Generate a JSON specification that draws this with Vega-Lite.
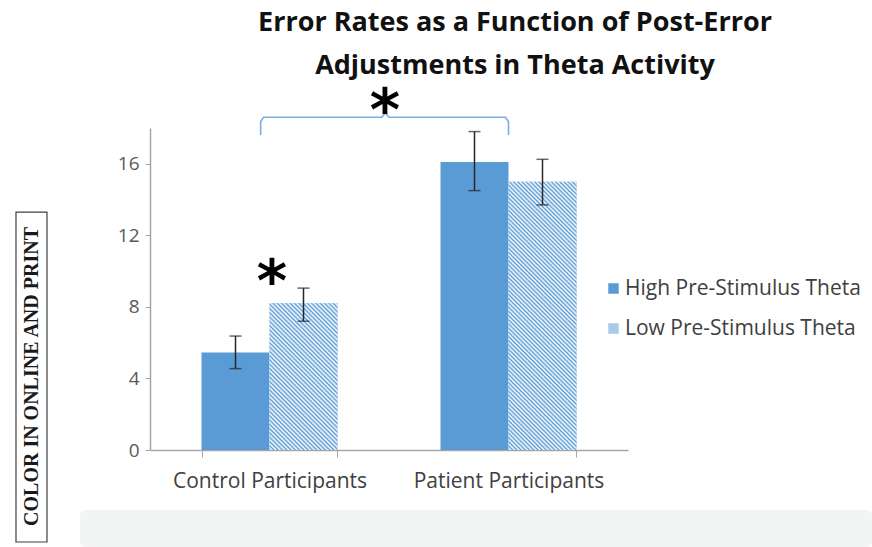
{
  "$schema": "https://vega.github.io/schema/vega-lite/v6.json",
  "width": 478,
  "height": 322,
  "autosize": {"type": "none"},
  "padding": {"left": 150, "top": 128, "right": 244, "bottom": 97},
  "background": "white",
  "config": {"view": {"stroke": null}, "font": "Open Sans"},
  "title": {
    "text": ["Error Rates as a Function of Post-Error", "Adjustments in Theta Activity"],
    "font": "Open Sans",
    "fontSize": 27,
    "fontWeight": "bold",
    "color": "#111111",
    "anchor": "middle",
    "frame": "group",
    "dx": 126,
    "offset": 4,
    "lineHeight": 43
  },
  "datasets": {
    "bars": [
      {"group": "Control Participants", "cond": "High Pre-Stimulus Theta", "rate": 5.45, "lo": 4.55, "hi": 6.37},
      {"group": "Control Participants", "cond": "Low Pre-Stimulus Theta", "rate": 8.2, "lo": 7.2, "hi": 9.05},
      {"group": "Patient Participants", "cond": "High Pre-Stimulus Theta", "rate": 16.1, "lo": 14.5, "hi": 17.8},
      {"group": "Patient Participants", "cond": "Low Pre-Stimulus Theta", "rate": 15.0, "lo": 13.7, "hi": 16.25}
    ],
    "ann": [
      {"kind": "band", "ax": -0.2929, "ax2": 3.0209, "ay": -3.35, "ay2": -5.42, "ord": 0, "label": ""},
      {"kind": "box", "ax": -0.5607, "ax2": -0.431, "ay": 13.3, "ay2": -5.143, "ord": 0, "label": ""},
      {"kind": "lbl", "ax": -0.4958, "ax2": 0, "ay": 4.11, "ay2": 0, "ord": 0, "label": "COLOR IN ONLINE AND PRINT"},
      {"kind": "br", "ax": 0.463, "ax2": 0, "ay": 17.61, "ay2": 0, "ord": 1, "label": ""},
      {"kind": "br", "ax": 0.463, "ax2": 0, "ay": 18.35, "ay2": 0, "ord": 2, "label": ""},
      {"kind": "br", "ax": 0.475, "ax2": 0, "ay": 18.6, "ay2": 0, "ord": 3, "label": ""},
      {"kind": "br", "ax": 0.97, "ax2": 0, "ay": 18.6, "ay2": 0, "ord": 4, "label": ""},
      {"kind": "br", "ax": 0.985, "ax2": 0, "ay": 18.84, "ay2": 0, "ord": 5, "label": ""},
      {"kind": "br", "ax": 1.0, "ax2": 0, "ay": 18.6, "ay2": 0, "ord": 6, "label": ""},
      {"kind": "br", "ax": 1.488, "ax2": 0, "ay": 18.6, "ay2": 0, "ord": 7, "label": ""},
      {"kind": "br", "ax": 1.5, "ax2": 0, "ay": 18.35, "ay2": 0, "ord": 8, "label": ""},
      {"kind": "br", "ax": 1.5, "ax2": 0, "ay": 17.61, "ay2": 0, "ord": 9, "label": ""},
      {"kind": "ast", "ax": 0.983, "ax2": 0, "ay": 18.85, "ay2": 0, "ord": 0, "label": "*"},
      {"kind": "ast", "ax": 0.51, "ax2": 0, "ay": 9.3, "ay2": 0, "ord": 0, "label": "*"}
    ]
  },
  "layer": [
    {
      "data": {"name": "bars"},
      "encoding": {
        "x": {
          "field": "group",
          "type": "nominal",
          "title": null,
          "scale": {"domain": ["Control Participants", "Patient Participants"], "paddingInner": 0.431, "paddingOuter": 0.2155},
          "axis": {
            "title": null,
            "labelAngle": 0,
            "tickBand": "extent",
            "tickSize": 7,
            "tickColor": "#A6A6A6",
            "domainColor": "#A6A6A6",
            "domainWidth": 1.5,
            "labelFont": "Open Sans",
            "labelFontSize": 21,
            "labelColor": "#404040",
            "labelPadding": 13,
            "labelLimit": 300
          }
        },
        "xOffset": {"field": "cond", "type": "nominal", "scale": {"domain": ["High Pre-Stimulus Theta", "Low Pre-Stimulus Theta"]}}
      },
      "layer": [
        {
          "mark": {"type": "bar"},
          "encoding": {
            "y": {
              "field": "rate",
              "type": "quantitative",
              "title": null,
              "scale": {"domain": [0, 18], "nice": false},
              "axis": {
                "title": null,
                "values": [0, 4, 8, 12, 16],
                "grid": false,
                "tickSize": 5,
                "tickColor": "#A6A6A6",
                "domainColor": "#A6A6A6",
                "domainWidth": 1.5,
                "labelFont": "Open Sans",
                "labelFontSize": 19,
                "labelColor": "#595959",
                "labelPadding": 6
              }
            },
            "color": {
              "field": "cond",
              "type": "nominal",
              "scale": {"domain": ["High Pre-Stimulus Theta", "Low Pre-Stimulus Theta"], "range": ["#5b9bd5", "#a9cbeb"]},
              "legend": {
                "title": null,
                "orient": "none",
                "legendX": 453,
                "legendY": 150,
                "padding": 0,
                "symbolType": "square",
                "symbolSize": 110,
                "symbolStrokeWidth": 0,
                "labelFont": "Open Sans",
                "labelFontSize": 21,
                "labelColor": "#404040",
                "labelOffset": 1,
                "labelLimit": 300,
                "rowPadding": 18
              }
            }
          }
        },
        {
          "transform": [{"filter": "datum.group === 'Control Participants' && datum.cond === 'Low Pre-Stimulus Theta'"}],
          "mark": {
            "type": "bar",
            "fill": {
              "gradient": "linear", "x1": 0, "y1": 1, "x2": 0.5584, "y2": -0.2047,
              "stops": [
                {"offset":0,"color":"#5b9bd5"},{"offset":0.01,"color":"#fff"},{"offset":0.02,"color":"#5b9bd5"},{"offset":0.03,"color":"#fff"},{"offset":0.04,"color":"#5b9bd5"},{"offset":0.05,"color":"#fff"},{"offset":0.06,"color":"#5b9bd5"},{"offset":0.07,"color":"#fff"},{"offset":0.08,"color":"#5b9bd5"},{"offset":0.09,"color":"#fff"},
                {"offset":0.1,"color":"#5b9bd5"},{"offset":0.11,"color":"#fff"},{"offset":0.12,"color":"#5b9bd5"},{"offset":0.13,"color":"#fff"},{"offset":0.14,"color":"#5b9bd5"},{"offset":0.15,"color":"#fff"},{"offset":0.16,"color":"#5b9bd5"},{"offset":0.17,"color":"#fff"},{"offset":0.18,"color":"#5b9bd5"},{"offset":0.19,"color":"#fff"},
                {"offset":0.2,"color":"#5b9bd5"},{"offset":0.21,"color":"#fff"},{"offset":0.22,"color":"#5b9bd5"},{"offset":0.23,"color":"#fff"},{"offset":0.24,"color":"#5b9bd5"},{"offset":0.25,"color":"#fff"},{"offset":0.26,"color":"#5b9bd5"},{"offset":0.27,"color":"#fff"},{"offset":0.28,"color":"#5b9bd5"},{"offset":0.29,"color":"#fff"},
                {"offset":0.3,"color":"#5b9bd5"},{"offset":0.31,"color":"#fff"},{"offset":0.32,"color":"#5b9bd5"},{"offset":0.33,"color":"#fff"},{"offset":0.34,"color":"#5b9bd5"},{"offset":0.35,"color":"#fff"},{"offset":0.36,"color":"#5b9bd5"},{"offset":0.37,"color":"#fff"},{"offset":0.38,"color":"#5b9bd5"},{"offset":0.39,"color":"#fff"},
                {"offset":0.4,"color":"#5b9bd5"},{"offset":0.41,"color":"#fff"},{"offset":0.42,"color":"#5b9bd5"},{"offset":0.43,"color":"#fff"},{"offset":0.44,"color":"#5b9bd5"},{"offset":0.45,"color":"#fff"},{"offset":0.46,"color":"#5b9bd5"},{"offset":0.47,"color":"#fff"},{"offset":0.48,"color":"#5b9bd5"},{"offset":0.49,"color":"#fff"},
                {"offset":0.5,"color":"#5b9bd5"},{"offset":0.51,"color":"#fff"},{"offset":0.52,"color":"#5b9bd5"},{"offset":0.53,"color":"#fff"},{"offset":0.54,"color":"#5b9bd5"},{"offset":0.55,"color":"#fff"},{"offset":0.56,"color":"#5b9bd5"},{"offset":0.57,"color":"#fff"},{"offset":0.58,"color":"#5b9bd5"},{"offset":0.59,"color":"#fff"},
                {"offset":0.6,"color":"#5b9bd5"},{"offset":0.61,"color":"#fff"},{"offset":0.62,"color":"#5b9bd5"},{"offset":0.63,"color":"#fff"},{"offset":0.64,"color":"#5b9bd5"},{"offset":0.65,"color":"#fff"},{"offset":0.66,"color":"#5b9bd5"},{"offset":0.67,"color":"#fff"},{"offset":0.68,"color":"#5b9bd5"},{"offset":0.69,"color":"#fff"},
                {"offset":0.7,"color":"#5b9bd5"},{"offset":0.71,"color":"#fff"},{"offset":0.72,"color":"#5b9bd5"},{"offset":0.73,"color":"#fff"},{"offset":0.74,"color":"#5b9bd5"},{"offset":0.75,"color":"#fff"},{"offset":0.76,"color":"#5b9bd5"},{"offset":0.77,"color":"#fff"},{"offset":0.78,"color":"#5b9bd5"},{"offset":0.79,"color":"#fff"},
                {"offset":0.8,"color":"#5b9bd5"},{"offset":0.81,"color":"#fff"},{"offset":0.82,"color":"#5b9bd5"},{"offset":0.83,"color":"#fff"},{"offset":0.84,"color":"#5b9bd5"},{"offset":0.85,"color":"#fff"},{"offset":0.86,"color":"#5b9bd5"},{"offset":0.87,"color":"#fff"},{"offset":0.88,"color":"#5b9bd5"},{"offset":0.89,"color":"#fff"},
                {"offset":0.9,"color":"#5b9bd5"},{"offset":0.91,"color":"#fff"},{"offset":0.92,"color":"#5b9bd5"},{"offset":0.93,"color":"#fff"},{"offset":0.94,"color":"#5b9bd5"},{"offset":0.95,"color":"#fff"},{"offset":0.96,"color":"#5b9bd5"},{"offset":0.97,"color":"#fff"},{"offset":0.98,"color":"#5b9bd5"},{"offset":0.99,"color":"#fff"},
                {"offset":1,"color":"#5b9bd5"}
              ]
            }
          },
          "encoding": {"y": {"field": "rate", "type": "quantitative", "title": null}}
        },
        {
          "transform": [{"filter": "datum.group === 'Patient Participants' && datum.cond === 'Low Pre-Stimulus Theta'"}],
          "mark": {
            "type": "bar",
            "fill": {
              "gradient": "linear", "x1": 0, "y1": 1, "x2": 0.2985, "y2": -0.1778,
              "stops": [
                {"offset":0,"color":"#5b9bd5"},{"offset":0.00625,"color":"#fff"},{"offset":0.0125,"color":"#5b9bd5"},{"offset":0.01875,"color":"#fff"},{"offset":0.025,"color":"#5b9bd5"},{"offset":0.03125,"color":"#fff"},{"offset":0.0375,"color":"#5b9bd5"},{"offset":0.04375,"color":"#fff"},{"offset":0.05,"color":"#5b9bd5"},{"offset":0.05625,"color":"#fff"},{"offset":0.0625,"color":"#5b9bd5"},{"offset":0.06875,"color":"#fff"},{"offset":0.075,"color":"#5b9bd5"},{"offset":0.08125,"color":"#fff"},{"offset":0.0875,"color":"#5b9bd5"},{"offset":0.09375,"color":"#fff"},
                {"offset":0.1,"color":"#5b9bd5"},{"offset":0.10625,"color":"#fff"},{"offset":0.1125,"color":"#5b9bd5"},{"offset":0.11875,"color":"#fff"},{"offset":0.125,"color":"#5b9bd5"},{"offset":0.13125,"color":"#fff"},{"offset":0.1375,"color":"#5b9bd5"},{"offset":0.14375,"color":"#fff"},{"offset":0.15,"color":"#5b9bd5"},{"offset":0.15625,"color":"#fff"},{"offset":0.1625,"color":"#5b9bd5"},{"offset":0.16875,"color":"#fff"},{"offset":0.175,"color":"#5b9bd5"},{"offset":0.18125,"color":"#fff"},{"offset":0.1875,"color":"#5b9bd5"},{"offset":0.19375,"color":"#fff"},
                {"offset":0.2,"color":"#5b9bd5"},{"offset":0.20625,"color":"#fff"},{"offset":0.2125,"color":"#5b9bd5"},{"offset":0.21875,"color":"#fff"},{"offset":0.225,"color":"#5b9bd5"},{"offset":0.23125,"color":"#fff"},{"offset":0.2375,"color":"#5b9bd5"},{"offset":0.24375,"color":"#fff"},{"offset":0.25,"color":"#5b9bd5"},{"offset":0.25625,"color":"#fff"},{"offset":0.2625,"color":"#5b9bd5"},{"offset":0.26875,"color":"#fff"},{"offset":0.275,"color":"#5b9bd5"},{"offset":0.28125,"color":"#fff"},{"offset":0.2875,"color":"#5b9bd5"},{"offset":0.29375,"color":"#fff"},
                {"offset":0.3,"color":"#5b9bd5"},{"offset":0.30625,"color":"#fff"},{"offset":0.3125,"color":"#5b9bd5"},{"offset":0.31875,"color":"#fff"},{"offset":0.325,"color":"#5b9bd5"},{"offset":0.33125,"color":"#fff"},{"offset":0.3375,"color":"#5b9bd5"},{"offset":0.34375,"color":"#fff"},{"offset":0.35,"color":"#5b9bd5"},{"offset":0.35625,"color":"#fff"},{"offset":0.3625,"color":"#5b9bd5"},{"offset":0.36875,"color":"#fff"},{"offset":0.375,"color":"#5b9bd5"},{"offset":0.38125,"color":"#fff"},{"offset":0.3875,"color":"#5b9bd5"},{"offset":0.39375,"color":"#fff"},
                {"offset":0.4,"color":"#5b9bd5"},{"offset":0.40625,"color":"#fff"},{"offset":0.4125,"color":"#5b9bd5"},{"offset":0.41875,"color":"#fff"},{"offset":0.425,"color":"#5b9bd5"},{"offset":0.43125,"color":"#fff"},{"offset":0.4375,"color":"#5b9bd5"},{"offset":0.44375,"color":"#fff"},{"offset":0.45,"color":"#5b9bd5"},{"offset":0.45625,"color":"#fff"},{"offset":0.4625,"color":"#5b9bd5"},{"offset":0.46875,"color":"#fff"},{"offset":0.475,"color":"#5b9bd5"},{"offset":0.48125,"color":"#fff"},{"offset":0.4875,"color":"#5b9bd5"},{"offset":0.49375,"color":"#fff"},
                {"offset":0.5,"color":"#5b9bd5"},{"offset":0.50625,"color":"#fff"},{"offset":0.5125,"color":"#5b9bd5"},{"offset":0.51875,"color":"#fff"},{"offset":0.525,"color":"#5b9bd5"},{"offset":0.53125,"color":"#fff"},{"offset":0.5375,"color":"#5b9bd5"},{"offset":0.54375,"color":"#fff"},{"offset":0.55,"color":"#5b9bd5"},{"offset":0.55625,"color":"#fff"},{"offset":0.5625,"color":"#5b9bd5"},{"offset":0.56875,"color":"#fff"},{"offset":0.575,"color":"#5b9bd5"},{"offset":0.58125,"color":"#fff"},{"offset":0.5875,"color":"#5b9bd5"},{"offset":0.59375,"color":"#fff"},
                {"offset":0.6,"color":"#5b9bd5"},{"offset":0.60625,"color":"#fff"},{"offset":0.6125,"color":"#5b9bd5"},{"offset":0.61875,"color":"#fff"},{"offset":0.625,"color":"#5b9bd5"},{"offset":0.63125,"color":"#fff"},{"offset":0.6375,"color":"#5b9bd5"},{"offset":0.64375,"color":"#fff"},{"offset":0.65,"color":"#5b9bd5"},{"offset":0.65625,"color":"#fff"},{"offset":0.6625,"color":"#5b9bd5"},{"offset":0.66875,"color":"#fff"},{"offset":0.675,"color":"#5b9bd5"},{"offset":0.68125,"color":"#fff"},{"offset":0.6875,"color":"#5b9bd5"},{"offset":0.69375,"color":"#fff"},
                {"offset":0.7,"color":"#5b9bd5"},{"offset":0.70625,"color":"#fff"},{"offset":0.7125,"color":"#5b9bd5"},{"offset":0.71875,"color":"#fff"},{"offset":0.725,"color":"#5b9bd5"},{"offset":0.73125,"color":"#fff"},{"offset":0.7375,"color":"#5b9bd5"},{"offset":0.74375,"color":"#fff"},{"offset":0.75,"color":"#5b9bd5"},{"offset":0.75625,"color":"#fff"},{"offset":0.7625,"color":"#5b9bd5"},{"offset":0.76875,"color":"#fff"},{"offset":0.775,"color":"#5b9bd5"},{"offset":0.78125,"color":"#fff"},{"offset":0.7875,"color":"#5b9bd5"},{"offset":0.79375,"color":"#fff"},
                {"offset":0.8,"color":"#5b9bd5"},{"offset":0.80625,"color":"#fff"},{"offset":0.8125,"color":"#5b9bd5"},{"offset":0.81875,"color":"#fff"},{"offset":0.825,"color":"#5b9bd5"},{"offset":0.83125,"color":"#fff"},{"offset":0.8375,"color":"#5b9bd5"},{"offset":0.84375,"color":"#fff"},{"offset":0.85,"color":"#5b9bd5"},{"offset":0.85625,"color":"#fff"},{"offset":0.8625,"color":"#5b9bd5"},{"offset":0.86875,"color":"#fff"},{"offset":0.875,"color":"#5b9bd5"},{"offset":0.88125,"color":"#fff"},{"offset":0.8875,"color":"#5b9bd5"},{"offset":0.89375,"color":"#fff"},
                {"offset":0.9,"color":"#5b9bd5"},{"offset":0.90625,"color":"#fff"},{"offset":0.9125,"color":"#5b9bd5"},{"offset":0.91875,"color":"#fff"},{"offset":0.925,"color":"#5b9bd5"},{"offset":0.93125,"color":"#fff"},{"offset":0.9375,"color":"#5b9bd5"},{"offset":0.94375,"color":"#fff"},{"offset":0.95,"color":"#5b9bd5"},{"offset":0.95625,"color":"#fff"},{"offset":0.9625,"color":"#5b9bd5"},{"offset":0.96875,"color":"#fff"},{"offset":0.975,"color":"#5b9bd5"},{"offset":0.98125,"color":"#fff"},{"offset":0.9875,"color":"#5b9bd5"},{"offset":0.99375,"color":"#fff"},
                {"offset":1,"color":"#5b9bd5"}
              ]
            }
          },
          "encoding": {"y": {"field": "rate", "type": "quantitative", "title": null}}
        },
        {
          "mark": {"type": "rule", "color": "#262626", "strokeWidth": 1.5},
          "encoding": {
            "y": {"field": "lo", "type": "quantitative", "title": null},
            "y2": {"field": "hi"}
          }
        },
        {
          "mark": {"type": "tick", "color": "#262626", "thickness": 1.5, "size": 12},
          "encoding": {"y": {"field": "lo", "type": "quantitative", "title": null}}
        },
        {
          "mark": {"type": "tick", "color": "#262626", "thickness": 1.5, "size": 12},
          "encoding": {"y": {"field": "hi", "type": "quantitative", "title": null}}
        }
      ]
    },
    {
      "data": {"name": "ann"},
      "layer": [
        {
          "transform": [{"filter": "datum.kind === 'band'"}],
          "mark": {"type": "rect", "fill": "#f3f4f4", "cornerRadius": 6},
          "encoding": {
            "x": {"field": "ax", "type": "quantitative", "scale": {"domain": [0, 2], "nice": false, "zero": false}, "axis": null},
            "x2": {"field": "ax2"},
            "y": {"field": "ay", "type": "quantitative", "title": null},
            "y2": {"field": "ay2"}
          }
        },
        {
          "transform": [{"filter": "datum.kind === 'box'"}],
          "mark": {"type": "rect", "fill": "#ffffff", "stroke": "#404040", "strokeWidth": 1.2},
          "encoding": {
            "x": {"field": "ax", "type": "quantitative", "axis": null},
            "x2": {"field": "ax2"},
            "y": {"field": "ay", "type": "quantitative", "title": null},
            "y2": {"field": "ay2"}
          }
        },
        {
          "transform": [{"filter": "datum.kind === 'lbl'"}],
          "mark": {"type": "text", "angle": 270, "font": "Liberation Serif", "fontWeight": "bold", "fontSize": 20, "align": "center", "baseline": "middle", "color": "#1a1a1a"},
          "encoding": {
            "x": {"field": "ax", "type": "quantitative", "axis": null},
            "y": {"field": "ay", "type": "quantitative", "title": null},
            "text": {"field": "label"}
          }
        },
        {
          "transform": [{"filter": "datum.kind === 'br'"}],
          "mark": {"type": "line", "color": "#7aaee0", "strokeWidth": 1.6},
          "encoding": {
            "x": {"field": "ax", "type": "quantitative", "axis": null},
            "y": {"field": "ay", "type": "quantitative", "title": null},
            "order": {"field": "ord", "type": "quantitative"}
          }
        },
        {
          "transform": [{"filter": "datum.kind === 'ast'"}],
          "mark": {"type": "text", "font": "DejaVu Sans", "fontWeight": "bold", "fontSize": 58, "align": "center", "baseline": "middle", "color": "#000000"},
          "encoding": {
            "x": {"field": "ax", "type": "quantitative", "axis": null},
            "y": {"field": "ay", "type": "quantitative", "title": null},
            "text": {"field": "label"}
          }
        }
      ]
    }
  ],
  "resolve": {"scale": {"x": "independent"}, "axis": {"x": "independent"}}
}
